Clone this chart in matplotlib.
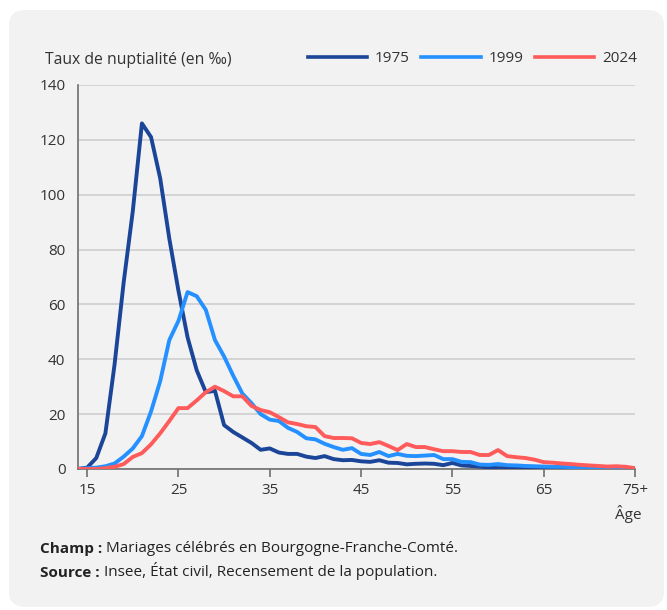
import numpy as np
import matplotlib
matplotlib.use("Agg")
import matplotlib.pyplot as plt
from matplotlib.patches import FancyBboxPatch

plt.rcParams['font.family'] = ['Open Sans', 'DejaVu Sans']

# ages 14 .. 75 (75 = "75+")
ages = list(range(14, 76))

v1975 = [0, 0.5, 4, 13, 38, 68, 94, 126, 121, 106, 84, 65, 48, 36, 28, 28.5,
         16, 13.5, 11.5, 9.5, 7, 7.5, 6, 5.5, 5.5, 4.5, 4, 4.7, 3.6, 3.2, 3.3,
         2.8, 2.6, 3.2, 2.3, 2.2, 1.7, 1.9, 2, 1.9, 1.4, 2.2, 1.3, 1.1, 0.9, 0.6,
         0.3, 0.4, 0.4, 0.3, 0.3, 0.3, 0.3, 0.3, 0.2, 0.2, 0.2, 0.2, 0.2, 0.2,
         0.2, 0.1]
v1999 = [0, 0.3, 0.5, 1, 2, 4.5, 7.5, 12, 21, 32, 47, 54, 64.5, 63, 58, 47,
         41, 34, 27.5, 24, 20, 18, 17.5, 15, 13.5, 11.2, 10.8, 9.2, 8, 7,
         7.6, 5.5, 5.1, 6.2, 4.7, 5.5, 4.8, 4.7, 4.9, 5.1, 3.6, 3.6, 2.6, 2.5,
         1.6, 1.5, 1.8, 1.4, 1.3, 1.1, 1.0, 0.9, 0.8, 0.8, 0.7, 0.6, 0.6, 0.5,
         0.5, 0.4, 0.4, 0.2]
v2024 = [0, 0, 0, 0.3, 0.8, 1.8, 4.4, 5.8, 9, 13, 17.5, 22.2, 22.2, 25, 28,
         30, 28.4, 26.5, 26.5, 23, 21.5, 20.7, 18.9, 17, 16.4, 15.6, 15.3, 12,
         11.3, 11.3, 11.2, 9.5, 9.1, 9.8, 8.4, 6.9, 9.1, 8, 8, 7.2, 6.5, 6.5,
         6.2, 6.2, 5.1, 5.1, 6.9, 4.7, 4.3, 4, 3.4, 2.5, 2.3, 2, 1.8, 1.5, 1.3,
         1.1, 0.9, 1.0, 0.8, 0.3]

series = [("1975", v1975, "#1b4598"), ("1999", v1999, "#2590ff"), ("2024", v2024, "#ff5b5b")]

xticks = [15, 25, 35, 45, 55, 65, 75]
xticklabels = ["15", "25", "35", "45", "55", "65", "75+"]
yticks = [0, 20, 40, 60, 80, 100, 120, 140]

W, H = 667, 610
FS = 11
fig = plt.figure(figsize=(W / 100, H / 100), dpi=100, facecolor="white")

# rounded grey panel
panel = FancyBboxPatch((9 / W, 3 / H), 655 / W, 597 / H,
                       boxstyle="round,pad=0,rounding_size=0.025",
                       transform=fig.transFigure, facecolor="#f2f2f2",
                       edgecolor="none", zorder=-10)
fig.patches.append(panel)

ax = fig.add_axes([78 / W, 1 - 469 / H, (635 - 78) / W, (469 - 85) / H])
ax.set_facecolor("none")

for name, vals, col in series:
    ax.plot(ages, vals, color=col, lw=2.8, label=name, zorder=3)

ax.set_xlim(14, 75)
ax.set_ylim(0, 140)
ax.set_xticks(xticks)
ax.set_xticklabels(xticklabels)
ax.set_yticks(yticks)
ax.yaxis.grid(True, color="#cfcfcf", lw=1.2)
ax.set_axisbelow(True)
for s in ["top", "right"]:
    ax.spines[s].set_visible(False)
for s in ["left", "bottom"]:
    ax.spines[s].set_color("#6e6e6e")
    ax.spines[s].set_linewidth(1.2)
ax.tick_params(axis="y", length=0, pad=9, labelsize=FS, labelcolor="#333333")
ax.tick_params(axis="x", length=6, width=1.2, color="#6e6e6e", pad=4,
               labelsize=FS, labelcolor="#333333")

fig.text(45 / W, 1 - 60 / H, "Taux de nuptialité (en ‰)", fontsize=11.3,
         color="#333333", va="center", ha="left")
fig.text(628 / W, 1 - 514 / H, "Âge", fontsize=FS, color="#333333",
         va="center", ha="center")

leg = fig.legend(loc="center right", bbox_to_anchor=(637 / W, 1 - 59 / H), ncol=3,
                 frameon=False, fontsize=FS, handlelength=3.9, handletextpad=0.5,
                 columnspacing=0.75, borderaxespad=0, borderpad=0)
for t in leg.get_texts():
    t.set_color("#333333")
for l in leg.get_lines():
    l.set_linewidth(2.6)

# notes: bold label followed by regular text
for y, lab, txt in [(553, "Champ :", " Mariages célébrés en Bourgogne-Franche-Comté."),
                    (577, "Source :", " Insee, État civil, Recensement de la population.")]:
    t1 = fig.text(40 / W, 1 - y / H, lab, fontsize=FS, fontweight="bold",
                  color="#222222", va="baseline", ha="left")
    ax.annotate(txt, xy=(1, 0), xycoords=t1, va="bottom", ha="left",
                fontsize=FS, color="#222222", annotation_clip=False)

fig.savefig("out.png", dpi=100, facecolor="white")
